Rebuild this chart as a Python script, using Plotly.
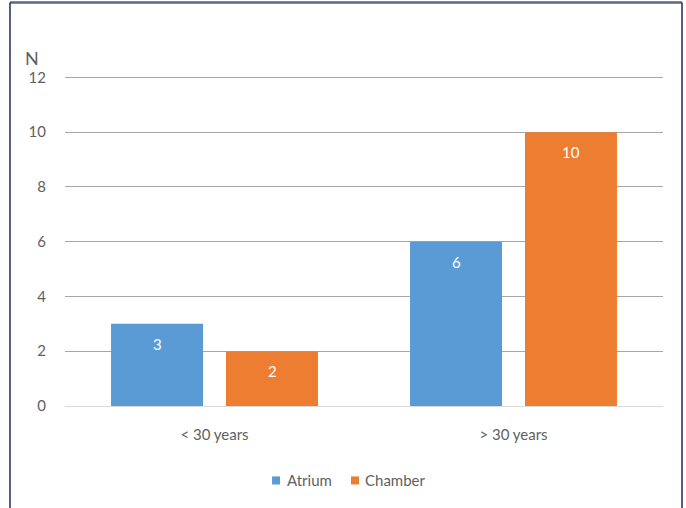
import plotly.graph_objects as go

categories = ["< 30 years", "> 30 years"]
atrium = [3, 6]
chamber = [2, 10]
y_ticks = [0, 2, 4, 6, 8, 10, 12]
series_names = ["Atrium", "Chamber"]

BLUE = "#5B9BD5"
ORANGE = "#ED7D31"
TEXT = "#5f5f5f"
FONT = "Lato"

fig = go.Figure()
fig.add_trace(go.Bar(name=series_names[0], x=categories, y=atrium, marker_color=BLUE,
                     marker_line_width=0))
fig.add_trace(go.Bar(name=series_names[1], x=categories, y=chamber, marker_color=ORANGE,
                     marker_line_width=0))

# value labels inside the top of each bar
annotations = []
for series, shift in ((atrium, -57.5), (chamber, 57.5)):
    for cat, val in zip(categories, series):
        annotations.append(dict(x=cat, y=val, xref="x", yref="y", text=str(val),
                                showarrow=False, xshift=shift, yshift=-20,
                                font=dict(family=FONT, size=15, color="white")))
# axis title "N" above the value axis
annotations.append(dict(x=-0.055, y=1.0, xref="paper", yref="paper", text="N",
                        showarrow=False, xanchor="center", yanchor="bottom", yshift=5,
                        font=dict(family=FONT, size=18, color=TEXT)))

# outer frame around the chart
FX0, FX1, FY1 = -0.092, 1.0318, 1.2226
shapes = [
    dict(type="line", xref="paper", yref="paper", x0=FX0, x1=FX1, y0=FY1, y1=FY1,
         line=dict(color="#5c6784", width=2.5)),
    dict(type="line", xref="paper", yref="paper", x0=FX0, x1=FX0, y0=-0.4, y1=FY1,
         line=dict(color="#1f2a5a", width=1.5)),
    dict(type="line", xref="paper", yref="paper", x0=FX1, x1=FX1, y0=-0.4, y1=FY1,
         line=dict(color="#1f2a5a", width=1.5)),
]

# compact legend below the plot: colour square followed by series name
legend_items = [(series_names[0], BLUE, 0.3462, 0.3679), (series_names[1], ORANGE, 0.4783, 0.4983)]
for name, color, sx, tx in legend_items:
    shapes.append(dict(type="rect", xref="paper", yref="paper", x0=sx, x1=sx + 0.0134,
                       y0=-0.2378, y1=-0.2134, fillcolor=color, line=dict(width=0)))
    annotations.append(dict(x=tx, y=-0.2256, xref="paper", yref="paper", text=name,
                            showarrow=False, xanchor="left", yanchor="middle",
                            font=dict(family=FONT, size=15, color=TEXT)))

fig.update_layout(
    width=686, height=508,
    margin=dict(l=65, r=23, t=76, b=102),
    paper_bgcolor="white", plot_bgcolor="white",
    barmode="group", bargap=0.231, bargroupgap=0.2,
    font=dict(family=FONT, size=15, color=TEXT),
    showlegend=False,
    annotations=annotations,
    shapes=shapes,
)
fig.update_xaxes(showgrid=False, showline=True, linecolor="#d9d9d9", linewidth=1,
                 ticks="", ticklabelstandoff=15, tickfont=dict(size=15, color=TEXT))
fig.update_yaxes(range=[0, 12.05], tickvals=y_ticks, showgrid=True, gridcolor="#a6a6a6",
                 gridwidth=1, zeroline=False, showline=False, ticks="",
                 ticklabelstandoff=18, tickfont=dict(size=15, color=TEXT))

fig.write_html("out.html")
